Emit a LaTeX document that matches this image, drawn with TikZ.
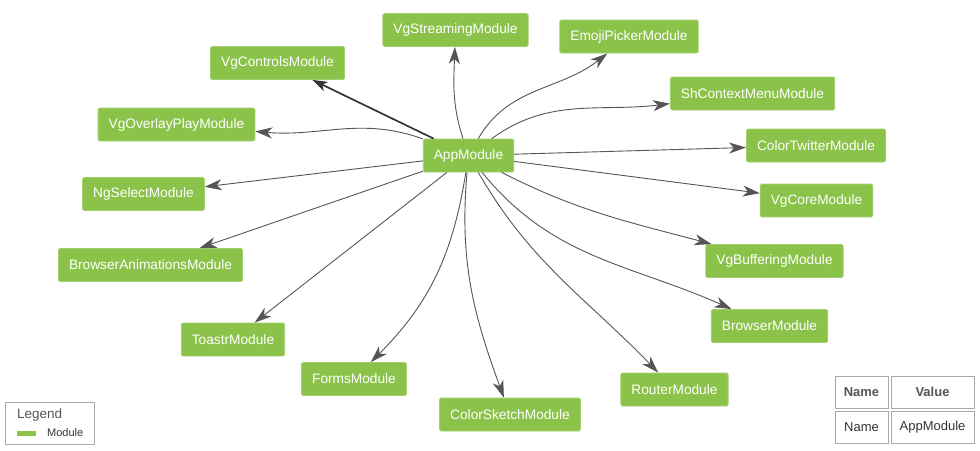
\documentclass[tikz,border=0pt]{standalone}
\usepackage{fontspec}
\setmainfont{Liberation Sans}
\usetikzlibrary{arrows.meta}
\definecolor{modgreen}{RGB}{139,195,74}
\definecolor{edgegray}{RGB}{85,85,85}
\definecolor{framegray}{RGB}{170,170,170}
\definecolor{textgray}{RGB}{85,85,85}
\tikzset{
  module/.style={rectangle, rounded corners=1.5pt, fill=modgreen,
    draw=modgreen!80!white, line width=0.8pt, text=white,
    font=\fontsize{13.7}{16}\selectfont, minimum height=33pt,
    inner xsep=10.6pt, inner ysep=2pt},
  dep/.style={draw=edgegray, line width=0.9pt,
    -{Stealth[length=17pt,width=11pt,inset=5pt]}},
  strongdep/.style={draw=black!80, line width=1.7pt,
    -{Stealth[length=15pt,width=10pt,inset=4pt]}},
  cell/.style={rectangle, draw=framegray, line width=1pt,
    minimum height=32pt, inner sep=0pt, font=\fontsize{13}{15}\selectfont}
}
\begin{document}
\begin{tikzpicture}[x=1pt,y=1pt]
  \useasboundingbox (0,0) rectangle (980,-450);
  % modules
  \node[module] (app) at (468.5,-155.5) {AppModule};
  \node[module] (streaming) at (455.5,-30) {VgStreamingModule};
  \node[module] (emoji) at (629,-36.5) {EmojiPickerModule};
  \node[module] (controls) at (277.5,-63) {VgControlsModule};
  \node[module] (contextmenu) at (752.5,-93.5) {ShContextMenuModule};
  \node[module] (overlay) at (176.5,-124.5) {VgOverlayPlayModule};
  \node[module] (twitter) at (816,-145.5) {ColorTwitterModule};
  \node[module] (ngselect) at (143.5,-194) {NgSelectModule};
  \node[module] (core) at (816.5,-200.5) {VgCoreModule};
  \node[module] (animations) at (150.5,-265) {BrowserAnimationsModule};
  \node[module] (buffering) at (774.5,-261) {VgBufferingModule};
  \node[module] (toastr) at (233,-339.5) {ToastrModule};
  \node[module] (browser) at (769.5,-326) {BrowserModule};
  \node[module] (forms) at (354,-379) {FormsModule};
  \node[module] (router) at (674.5,-389.5) {RouterModule};
  \node[module] (sketch) at (510,-414.5) {ColorSketchModule};
  % imports
  \begin{scope}[dep]
    \draw (app) to[out=108,in=268] (streaming);
    \draw (app) to[out=60,in=218] (emoji);
    \draw (app) to[out=36,in=187] (contextmenu);
    \draw (app) to[out=160,in=-5] (overlay);
    \draw (app) to (twitter);
    \draw (app) to (ngselect);
    \draw (app) to (core);
    \draw (app) to (animations);
    \draw (app) to[out=-27,in=165] (buffering);
    \draw (app) to[out=-51,in=156] (browser);
    \draw (app) to (toastr);
    \draw (app) to[out=261,in=45] (forms);
    \draw (app) to[out=-60,in=134] (router);
    \draw (app) to[out=265,in=110] (sketch);
  \end{scope}
  \draw[strongdep] (app) to (controls);
  % legend
  \node[rectangle, draw=framegray, line width=1pt, minimum width=89pt,
    minimum height=42pt] (legend) at (49.5,-423) {};
  \node[anchor=west, text=textgray, inner sep=0pt,
    font=\fontsize{13.5}{15}\selectfont] (legendtitle) at (17,-415) {Legend};
  \node[fill=modgreen, minimum width=19pt, minimum height=5pt,
    inner sep=0pt] (swatch) at (26.5,-433.5) {};
  \node[anchor=west, text=black!80, inner sep=0pt,
    font=\fontsize{11}{13}\selectfont] (swatchlabel) at (47,-432.5) {Module};
  % table
  \node[cell, minimum width=53pt, text=textgray, font=\fontsize{13}{15}\selectfont\bfseries]
    (namehead) at (861.5,-392) {Name};
  \node[cell, minimum width=83pt, text=textgray, font=\fontsize{13}{15}\selectfont\bfseries]
    (valuehead) at (932.5,-392) {Value};
  \node[cell, minimum width=53pt, text=black!80] (namecell) at (861.5,-427) {Name};
  \node[cell, minimum width=83pt, text=black!80] (valuecell) at (932.5,-427) {AppModule};
\end{tikzpicture}
\end{document}
